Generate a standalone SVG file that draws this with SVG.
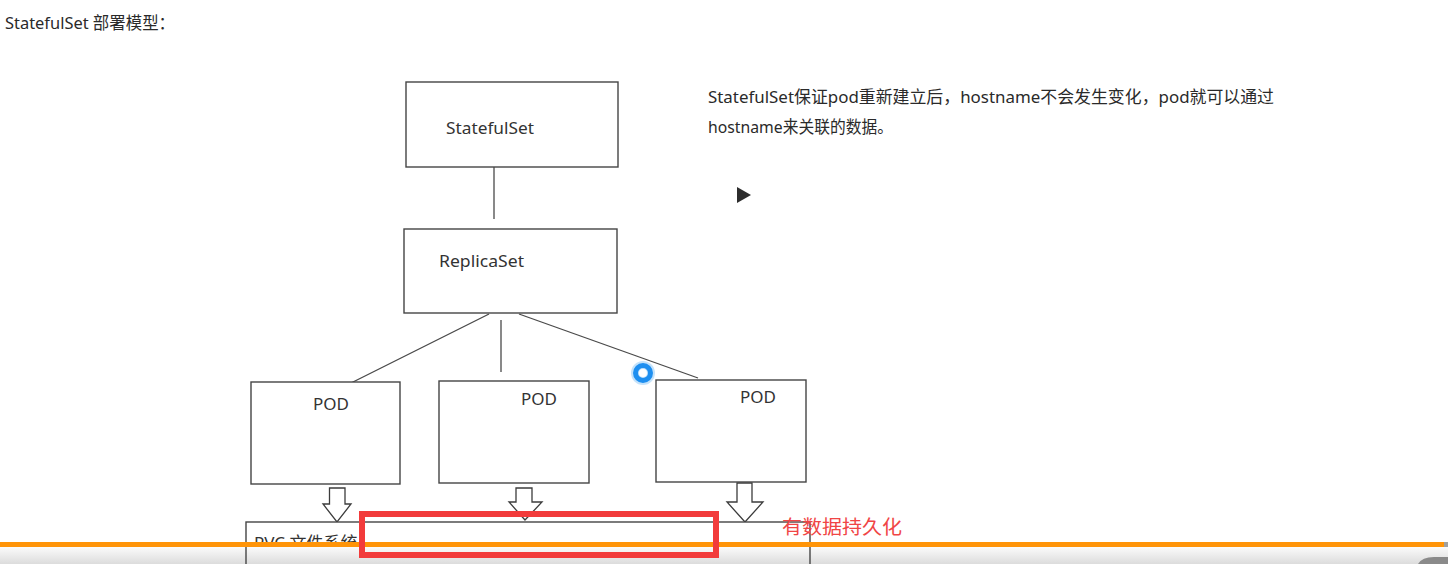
<svg xmlns="http://www.w3.org/2000/svg" width="1448" height="564" viewBox="0 0 1448 564">
  <defs>
    <style>
      .box { fill: #ffffff; stroke: #454545; stroke-width: 1.4; }
      .lbl { font-family: "Noto Sans", "Noto Sans CJK SC", sans-serif; font-size: 17px; fill: #333333; }
      .txt { font-family: "Noto Sans", "Noto Sans CJK SC", sans-serif; font-size: 17px; fill: #2a2a2a; }
      .conn { stroke: #4a4a4a; stroke-width: 1.3; fill: none; }
      .harrow { fill: #ffffff; stroke: #3c3c3c; stroke-width: 1.3; stroke-linejoin: miter; }
    </style>
    <linearGradient id="barGrad" x1="0" y1="0" x2="0" y2="1">
      <stop offset="0" stop-color="#fbfbfb"/>
      <stop offset="1" stop-color="#dcdcdc"/>
    </linearGradient>
  </defs>

  <rect x="0" y="0" width="1448" height="564" fill="#ffffff"/>

  <text class="txt" x="5" y="29" textLength="170" lengthAdjust="spacingAndGlyphs">StatefulSet 部署模型：</text>

  <g id="connectors">
    <line class="conn" x1="494" y1="167" x2="494" y2="219"/>
    <line class="conn" x1="489" y1="314" x2="347" y2="385"/>
    <line class="conn" x1="501" y1="320" x2="501" y2="372"/>
    <line class="conn" x1="519" y1="314" x2="698" y2="378"/>
    <polygon class="harrow" points="329.5,488 345,488 345,504 351,504 337,522 323,504 329.5,504"/>
    <polygon class="harrow" points="516,488 532,488 532,502 542,502 525,520 509,502 516,502"/>
    <polygon class="harrow" points="737,483 752,483 752,502 763,502 745,522 727,502 737,502"/>
  </g>

  <g id="statefulset">
    <rect class="box" x="406" y="82" width="212" height="85"/>
    <text class="lbl" x="446" y="134" textLength="88" lengthAdjust="spacingAndGlyphs">StatefulSet</text>
  </g>

  <g id="replicaset">
    <rect class="box" x="404" y="229" width="213" height="84"/>
    <text class="lbl" x="439" y="267" textLength="85" lengthAdjust="spacingAndGlyphs">ReplicaSet</text>
  </g>

  <g id="pod1">
    <rect class="box" x="251" y="382" width="149" height="102"/>
    <text class="lbl" x="313" y="410">POD</text>
  </g>

  <g id="pod2">
    <rect class="box" x="439" y="381" width="150" height="102"/>
    <text class="lbl" x="521" y="405">POD</text>
  </g>

  <g id="pod3">
    <rect class="box" x="656" y="380" width="150" height="102"/>
    <text class="lbl" x="740" y="403">POD</text>
  </g>

  <g id="pvc">
    <rect class="box" x="246" y="522" width="564" height="60"/>
    <text class="lbl" x="254" y="549">PVC  文件系统</text>
  </g>

  <g id="note">
    <text class="txt" x="708" y="103" textLength="566" lengthAdjust="spacingAndGlyphs">StatefulSet保证pod重新建立后，hostname不会发生变化，pod就可以通过</text>
    <text class="txt" x="708" y="133" textLength="185" lengthAdjust="spacingAndGlyphs">hostname来关联的数据。</text>
  </g>

  <polygon points="737,187 751,195 737,203" fill="#2d2d2d"/>

  <circle cx="643" cy="373" r="8" fill="none" stroke="#9ccff7" stroke-width="8" opacity="0.6"/>
  <circle cx="643" cy="373" r="7.5" fill="none" stroke="#1e8ff0" stroke-width="5"/>

  <rect x="0" y="547" width="1448" height="17" fill="url(#barGrad)"/>
  <line x1="810" y1="547" x2="810" y2="564" stroke="#454545" stroke-width="1.4"/>
  <line x1="246" y1="547" x2="246" y2="564" stroke="#454545" stroke-width="1.4"/>
  <rect x="0" y="542" width="1444" height="5" fill="#ff9408"/>
  <rect x="1444" y="542" width="4" height="5" fill="#a0a0a0"/>
  <path d="M1418,564 Q1422,557 1434,557 L1448,557 L1448,564 Z" fill="#8a8a8a"/>

  <rect x="362" y="514" width="354" height="41" fill="none" stroke="#f23b3b" stroke-width="6"/>
  <text x="782" y="534" font-family="Noto Sans CJK SC, sans-serif" font-size="19" fill="#f04545" textLength="120" lengthAdjust="spacingAndGlyphs">有数据持久化</text>
</svg>
